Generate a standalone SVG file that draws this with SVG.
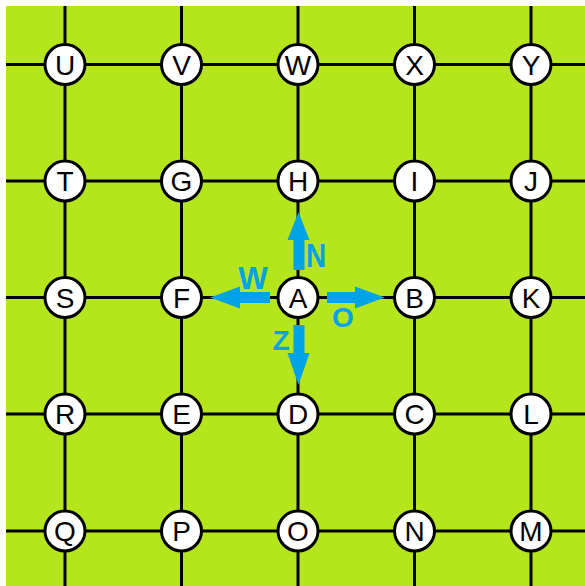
<svg xmlns="http://www.w3.org/2000/svg" width="585" height="586" viewBox="0 0 585 586">
<style>
.bg{fill:#b5e61d}
.grid line{stroke:#000;stroke-width:3}
.node circle{fill:#fff;stroke:#000;stroke-width:3}
.node text{font-family:"Liberation Sans",Arial,sans-serif;font-size:28px;fill:#000;text-anchor:middle}
.arrow{fill:#00a2e8}
.lbl{font-family:"Liberation Sans",Arial,sans-serif;font-size:28px;font-weight:bold;fill:#00a2e8;text-anchor:middle}
</style>
<rect width="585" height="586" fill="#fff"/>
<rect class="bg" x="6" y="6" width="579" height="580"/>
<g id="connectors" class="grid">
<line x1="65" y1="6" x2="65" y2="586"/>
<line x1="181.5" y1="6" x2="181.5" y2="586"/>
<line x1="298" y1="6" x2="298" y2="586"/>
<line x1="414.5" y1="6" x2="414.5" y2="586"/>
<line x1="531" y1="6" x2="531" y2="586"/>
<line x1="6" y1="64.5" x2="585" y2="64.5"/>
<line x1="6" y1="181" x2="585" y2="181"/>
<line x1="6" y1="297.5" x2="585" y2="297.5"/>
<line x1="6" y1="414" x2="585" y2="414"/>
<line x1="6" y1="531" x2="585" y2="531"/>
</g>
<g id="arrows">
<polygon class="arrow" points="293.5,270 293.5,240 287.5,240 298.5,212 309.5,240 304.5,240 304.5,270"/>
<polygon class="arrow" points="270,292 240,292 240,286.5 210,297.5 240,308.5 240,303 270,303"/>
<polygon class="arrow" points="327,292 355,292 355,286.5 385,297.5 355,308.5 355,303 327,303"/>
<polygon class="arrow" points="293.5,325 293.5,353 287.5,353 298.5,385 309.5,353 304.5,353 304.5,325"/>
<text class="lbl" transform="translate(316,267) scale(1,1.2)">N</text>
<text class="lbl" transform="translate(253,289) scale(1.12,1.1)">W</text>
<text class="lbl" x="343" y="327">O</text>
<text class="lbl" x="281" y="350">Z</text>
</g>
<g id="U" class="node"><circle cx="65" cy="64.5" r="20"/><text x="65" y="74.5">U</text></g>
<g id="V" class="node"><circle cx="181.5" cy="64.5" r="20"/><text x="181.5" y="74.5">V</text></g>
<g id="W" class="node"><circle cx="298" cy="64.5" r="20"/><text x="298" y="74.5">W</text></g>
<g id="X" class="node"><circle cx="414.5" cy="64.5" r="20"/><text x="414.5" y="74.5">X</text></g>
<g id="Y" class="node"><circle cx="531" cy="64.5" r="20"/><text x="531" y="74.5">Y</text></g>
<g id="T" class="node"><circle cx="65" cy="181" r="20"/><text x="65" y="191">T</text></g>
<g id="G" class="node"><circle cx="181.5" cy="181" r="20"/><text x="181.5" y="191">G</text></g>
<g id="H" class="node"><circle cx="298" cy="181" r="20"/><text x="298" y="191">H</text></g>
<g id="I" class="node"><circle cx="414.5" cy="181" r="20"/><text x="414.5" y="191">I</text></g>
<g id="J" class="node"><circle cx="531" cy="181" r="20"/><text x="531" y="191">J</text></g>
<g id="S" class="node"><circle cx="65" cy="297.5" r="20"/><text x="65" y="307.5">S</text></g>
<g id="F" class="node"><circle cx="181.5" cy="297.5" r="20"/><text x="181.5" y="307.5">F</text></g>
<g id="A" class="node"><circle cx="298" cy="297.5" r="20"/><text x="298" y="307.5">A</text></g>
<g id="B" class="node"><circle cx="414.5" cy="297.5" r="20"/><text x="414.5" y="307.5">B</text></g>
<g id="K" class="node"><circle cx="531" cy="297.5" r="20"/><text x="531" y="307.5">K</text></g>
<g id="R" class="node"><circle cx="65" cy="414" r="20"/><text x="65" y="424">R</text></g>
<g id="E" class="node"><circle cx="181.5" cy="414" r="20"/><text x="181.5" y="424">E</text></g>
<g id="D" class="node"><circle cx="298" cy="414" r="20"/><text x="298" y="424">D</text></g>
<g id="C" class="node"><circle cx="414.5" cy="414" r="20"/><text x="414.5" y="424">C</text></g>
<g id="L" class="node"><circle cx="531" cy="414" r="20"/><text x="531" y="424">L</text></g>
<g id="Q" class="node"><circle cx="65" cy="531" r="20"/><text x="65" y="541">Q</text></g>
<g id="P" class="node"><circle cx="181.5" cy="531" r="20"/><text x="181.5" y="541">P</text></g>
<g id="O" class="node"><circle cx="298" cy="531" r="20"/><text x="298" y="541">O</text></g>
<g id="N" class="node"><circle cx="414.5" cy="531" r="20"/><text x="414.5" y="541">N</text></g>
<g id="M" class="node"><circle cx="531" cy="531" r="20"/><text x="531" y="541">M</text></g>
</svg>
